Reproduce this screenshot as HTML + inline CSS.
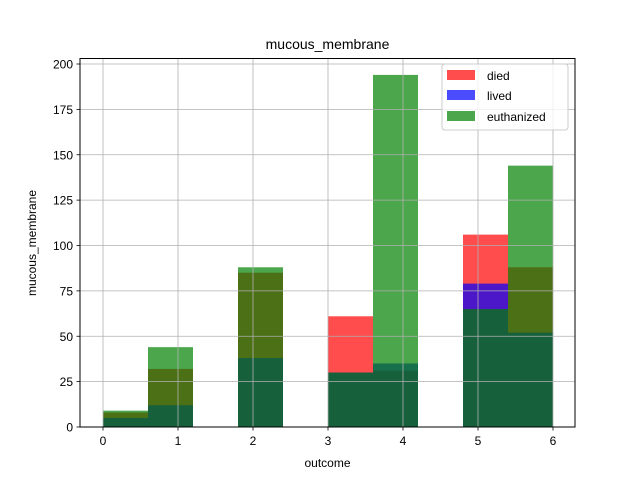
<!DOCTYPE html>
<html><head><meta charset="utf-8"><style>
body{margin:0;background:#fff}
svg text{font-family:"Liberation Sans","DejaVu Sans",sans-serif;font-size:12px;fill:#000}
</style></head><body>
<svg id="chart" width="640" height="480" xmlns="http://www.w3.org/2000/svg">
<rect width="640" height="480" fill="#fff"/>
<g id="bars"></g>
<g id="grid"></g>
<rect x="80" y="58.5" width="495" height="368.5" fill="none" stroke="#000" stroke-width="1"/>
<g id="ticks"></g>
<text x="327.5" y="49" text-anchor="middle" style="font-size:14px">mucous_membrane</text>
<text x="327.5" y="467" text-anchor="middle">outcome</text>
<text transform="translate(36,243) rotate(-90)" text-anchor="middle">mucous_membrane</text>
<g>
<rect x="442" y="64" width="126" height="66" rx="3" fill="#fff" fill-opacity="0.8" stroke="#ccc"/>
<rect x="447" y="70" width="28" height="10" fill="red" fill-opacity="0.7"/>
<text x="487" y="80">died</text>
<rect x="447" y="90" width="28" height="10" fill="blue" fill-opacity="0.7"/>
<text x="487" y="100">lived</text>
<rect x="447" y="111" width="28" height="10" fill="green" fill-opacity="0.7"/>
<text x="487" y="121">euthanized</text>
</g>
</svg>
<script>
const binEdges=[0,0.6,1.2,1.8,2.4,3.0,3.6,4.2,4.8,5.4,6.0];
const died=[8,32,0,85,0,61,31,0,106,88];
const lived=[5,12,0,38,0,30,35,0,79,52];
const euthanized=[9,44,0,88,0,30,194,0,65,144];
const xTicks=[0,1,2,3,4,5,6];
const yTicks=[0,25,50,75,100,125,150,175,200];
const NS="http://www.w3.org/2000/svg";
function xs(v){return 103+v*75;}
function ys(v){return 427-v*1.815;}
const bars=document.getElementById('bars');
[[died,'red','died'],[lived,'blue','lived'],[euthanized,'green','euthanized']].forEach(([arr,col,nm])=>{
 arr.forEach((v,i)=>{
  if(v<=0)return;
  const r=document.createElementNS(NS,'rect');
  
  
  r.setAttribute('x',xs(binEdges[i]));r.setAttribute('width',xs(binEdges[i+1])-xs(binEdges[i]));
  r.setAttribute('y',ys(v));r.setAttribute('height',ys(0)-ys(v));
  r.setAttribute('fill',col);r.setAttribute('fill-opacity','0.7');
  bars.appendChild(r);
 });
});
const grid=document.getElementById('grid'),ticks=document.getElementById('ticks');
function line(p,x1,y1,x2,y2,c,nm){const l=document.createElementNS(NS,'line');
 
 
 l.setAttribute('x1',x1);l.setAttribute('y1',y1);l.setAttribute('x2',x2);l.setAttribute('y2',y2);l.setAttribute('stroke',c);l.setAttribute('stroke-width','0.8');p.appendChild(l);}
function txt(x,y,s,a,nm){const t=document.createElementNS(NS,'text');
 
 
 t.setAttribute('x',x);t.setAttribute('y',y);t.setAttribute('text-anchor',a);t.textContent=s;ticks.appendChild(t);}
xTicks.forEach(v=>{const x=xs(v);line(grid,x,58.5,x,427,'#b0b0b0','x-gridline');line(ticks,x,427,x,430.5,'#000','x-tick');txt(x,445,String(v),'middle','x-tick-label');});
yTicks.forEach(v=>{const y=ys(v);line(grid,80,y,575,y,'#b0b0b0','y-gridline');line(ticks,76.5,y,80,y,'#000','y-tick');txt(73,y+4.5,String(v),'end','y-tick-label');});
</script>
</body></html>
